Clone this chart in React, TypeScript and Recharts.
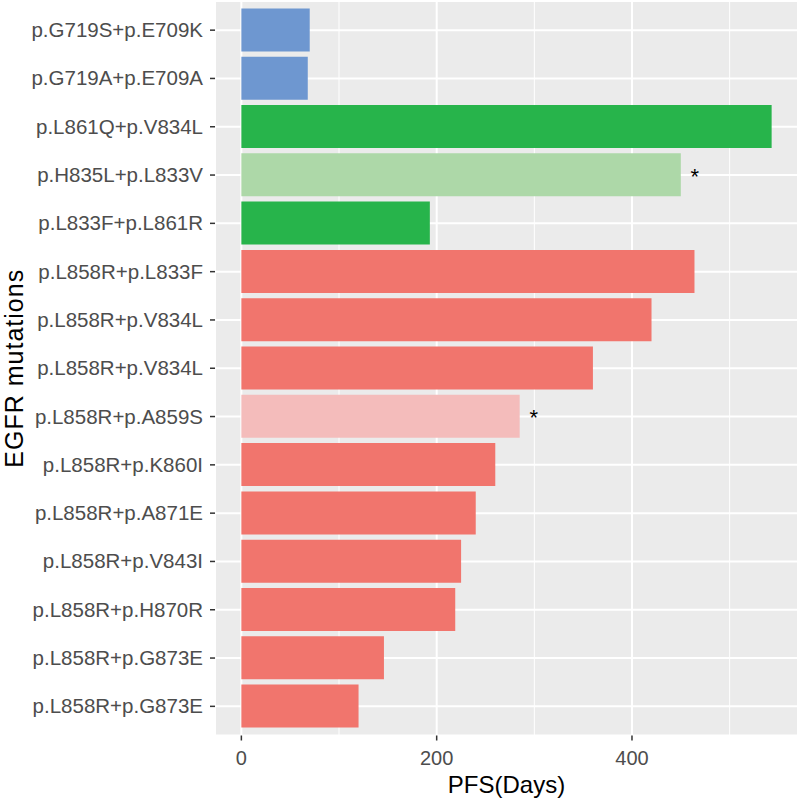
import React from 'react';
import {
  BarChart,
  Bar,
  XAxis,
  YAxis,
  CartesianGrid,
  Cell,
  LabelList,
} from 'recharts';

const mutations = [
  'p.G719S+p.E709K',
  'p.G719A+p.E709A',
  'p.L861Q+p.V834L',
  'p.H835L+p.L833V',
  'p.L833F+p.L861R',
  'p.L858R+p.L833F',
  'p.L858R+p.V834L',
  'p.L858R+p.V834L',
  'p.L858R+p.A859S',
  'p.L858R+p.K860I',
  'p.L858R+p.A871E',
  'p.L858R+p.V843I',
  'p.L858R+p.H870R',
  'p.L858R+p.G873E',
  'p.L858R+p.G873E',
];

const pfsDays = [70, 68, 543, 450, 193, 464, 420, 360, 285, 260, 240, 225, 219, 146, 120];

const groups = ['G719', 'G719', 'L861', 'L861', 'L861', 'L858', 'L858', 'L858', 'L858', 'L858', 'L858', 'L858', 'L858', 'L858', 'L858'];

const starred = [false, false, false, true, false, false, false, false, true, false, false, false, false, false, false];

const xTicks = [0, 200, 400];
const minorTicks = [100, 300, 500];
const xDomain: [number, number] = [-27, 570];

const groupColors: Record<string, string> = {
  G719: '#6E97D0',
  L861: '#27B44B',
  L858: '#F1756D',
};
const starredColors: Record<string, string> = {
  L861: '#ADD8A8',
  L858: '#F4BCBB',
};

const data = mutations.map((m, i) => ({
  key: `${m}#${i}`,
  label: m,
  pfs: pfsDays[i],
  group: groups[i],
  star: starred[i],
}));

// eslint-disable-next-line @typescript-eslint/no-explicit-any
function StarLabel(props: any) {
  const { x, y, width, height, index } = props;
  if (!data[index] || !data[index].star) return null;
  return (
    <text x={x + width + 14} y={y + height / 2 + 9} fontSize={22} fill="#000" textAnchor="middle">
      *
    </text>
  );
}

// eslint-disable-next-line @typescript-eslint/no-explicit-any
function YTick(props: any) {
  const { x, y, payload } = props;
  const row = data.find((d) => d.key === payload.value);
  return (
    <text x={x} y={y} dy={7} textAnchor="end" fontSize={20.5} fill="#4D4D4D">
      {row ? row.label : ''}
    </text>
  );
}

// minor vertical grid lines, placed with the x axis scale
// eslint-disable-next-line @typescript-eslint/no-explicit-any
function minorLines(props: any) {
  const axis = props.xAxis;
  if (axis && typeof axis.scale === 'function') {
    return minorTicks.map((t) => axis.scale(t));
  }
  const { offset } = props;
  return minorTicks.map((t) => offset.left + ((t - xDomain[0]) / (xDomain[1] - xDomain[0])) * offset.width);
}

export default function App() {
  return (
    <div style={{ width: 800, height: 799, background: '#fff', fontFamily: '"Liberation Sans", Arial, sans-serif' }}>
      <style>{'body{margin:0}'}</style>
      <BarChart
        width={800}
        height={799}
        data={data}
        layout="vertical"
        margin={{ top: 1, right: 2, left: 0, bottom: 0 }}
        barCategoryGap="5%"
      >
        <CartesianGrid fill="#EBEBEB" stroke="#FFFFFF" strokeWidth={2} />
        <CartesianGrid
          horizontal={false}
          stroke="#FFFFFF"
          strokeWidth={1}
          verticalCoordinatesGenerator={minorLines}
        />
        <XAxis
          type="number"
          dataKey="pfs"
          domain={xDomain}
          ticks={xTicks}
          allowDataOverflow
          axisLine={false}
          tickSize={5}
          tickMargin={10}
          tickLine={{ stroke: '#333333', strokeWidth: 1.5 }}
          tick={{ fill: '#4D4D4D', fontSize: 20 }}
          height={63.5}
          label={{ value: 'PFS(Days)', position: 'insideBottom', offset: 6, fill: '#000', fontSize: 24 }}
        />
        <YAxis
          type="category"
          dataKey="key"
          width={215}
          axisLine={false}
          tickSize={5}
          tickMargin={7}
          tickLine={{ stroke: '#333333', strokeWidth: 1.5 }}
          tick={<YTick />}
          padding={{ top: 5, bottom: 5 }}
          interval={0}
          label={{
            value: 'EGFR mutations',
            angle: -90,
            position: 'insideLeft',
            offset: 14,
            fill: '#000',
            fontSize: 25,
            style: { textAnchor: 'middle', letterSpacing: 1 },
          }}
        />
        <Bar dataKey="pfs" isAnimationActive={false}>
          {data.map((d, i) => (
            <Cell key={i} fill={d.star ? starredColors[d.group] : groupColors[d.group]} />
          ))}
          <LabelList dataKey="pfs" content={<StarLabel />} />
        </Bar>
      </BarChart>
    </div>
  );
}
